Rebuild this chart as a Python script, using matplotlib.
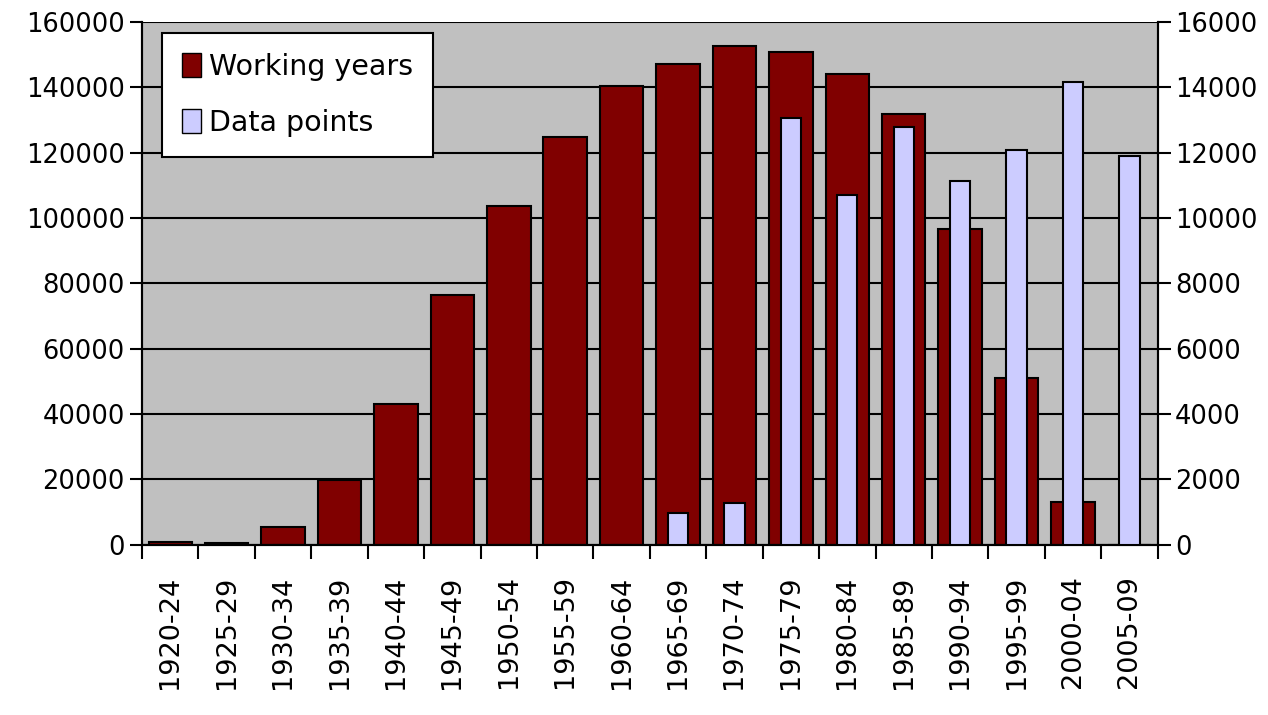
import numpy as np
import matplotlib.pyplot as plt
from matplotlib.patches import Patch

# Data
periods = ['1920-24', '1925-29', '1930-34', '1935-39', '1940-44', '1945-49',
           '1950-54', '1955-59', '1960-64', '1965-69', '1970-74', '1975-79',
           '1980-84', '1985-89', '1990-94', '1995-99', '2000-04', '2005-09']
working_years = [900, 700, 5500, 19700, 43200, 76500, 103600, 124800, 140500,
                 147200, 152700, 150900, 144000, 131800, 96600, 51000, 13000, 0]
data_points = [0, 0, 0, 0, 0, 0, 0, 0, 0, 970, 1290, 13060, 10700, 12800,
               11150, 12100, 14180, 11900]

red = '#800000'
lav = '#CCCCFF'
x = np.arange(len(periods))

fig = plt.figure(figsize=(12.68, 7.15), dpi=100)
ax = fig.add_axes([0.112, 0.238, 0.801, 0.731])
ax.set_facecolor('#C0C0C0')

ax.bar(x, working_years, width=0.77, color=red, edgecolor='black', linewidth=1.5, zorder=2)
ax.set_ylim(0, 160000)
ax.set_xlim(-0.5, len(periods) - 0.5)
ax.set_yticks(range(0, 160001, 20000))
ax.grid(axis='y', color='black', linewidth=1.5, zorder=1)
ax.set_axisbelow(True)

ax2 = ax.twinx()
ax2.bar(x, data_points, width=0.36, color=lav, edgecolor='black', linewidth=1.5, zorder=3)
ax2.set_ylim(0, 16000)
ax2.set_yticks(range(0, 16001, 2000))

# category labels centred, tick marks between categories
ax.set_xticks(x)
ax.set_xticklabels(periods, rotation=90, fontsize=19.5)
ax.tick_params(axis='x', length=0, pad=22)
ax.set_xticks(np.arange(-0.5, len(periods)), minor=True)
ax.tick_params(axis='x', which='minor', length=10, width=1.5, color='black')
ax.tick_params(axis='y', labelsize=18.5, length=9, width=1.5)
ax2.tick_params(axis='y', labelsize=18.5, length=9, width=1.5)

for a in (ax, ax2):
    for s in a.spines.values():
        s.set_linewidth(1.5)
    a.spines['top'].set_visible(False)

handles = [Patch(facecolor=red, edgecolor='black', label='Working years'),
           Patch(facecolor=lav, edgecolor='black', label='Data points')]
leg = ax2.legend(handles=handles, loc='upper left', bbox_to_anchor=(0.02, 0.98),
                 fontsize=20.5, frameon=True, fancybox=False, handlelength=0.65,
                 handleheight=0.9, handletextpad=0.3, labelspacing=1.0,
                 borderpad=0.7, borderaxespad=0)
leg.get_frame().set_edgecolor('black')
leg.get_frame().set_linewidth(1.5)
leg.get_frame().set_alpha(1)

fig.savefig('out.png', dpi=100)
